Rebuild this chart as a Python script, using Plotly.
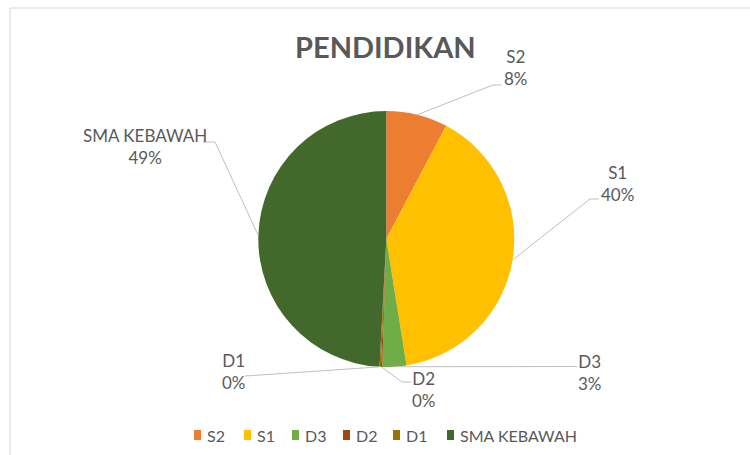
import math
import plotly.graph_objects as go

# ---- data ----
categories = ["S2", "S1", "D3", "D2", "D1", "SMA KEBAWAH"]
values = [46, 236, 18, 1, 1, 292]
colors = ["#ED7D31", "#FFC000", "#70AD47", "#9E480E", "#997300", "#43682B"]
title_text = "PENDIDIKAN"

# ---- layout constants (pixels) ----
W, H = 750, 455
CX, CY, R = 386.3, 239.0, 128.0
FONT = "Lato"
TXT = "#595959"
LEAD = "#BFBFBF"

# label block centres, leader knee and end points (px)
label_pos = [(516, 67), (617, 183), (590, 372), (424, 389), (234, 371), (145, 147)]
leader_knee = [(493, 85), (590, 199), (577, 366.5), (402, 382), (245, 376), (215, 142)]
leader_end = [(501, 85), (599, 199), (577, 366.5), (411, 382), (245, 376), (203, 142)]

legend_marker_x = [194, 244, 292, 343, 393, 447]
legend_y = 435


def px(x):
    return x / W


def py(y):
    return 1 - y / H


fig = go.Figure(
    go.Pie(
        labels=categories,
        values=values,
        sort=False,
        direction="clockwise",
        rotation=0,
        marker=dict(colors=colors, line=dict(width=0)),
        textinfo="none",
        hoverinfo="label+percent",
        showlegend=False,
        domain=dict(x=[px(CX - R), px(CX + R)], y=[py(CY + R), py(CY - R)]),
    )
)

shapes = []
annotations = []

# chart border
shapes.append(dict(type="rect", xref="paper", yref="paper",
                   x0=px(10), y0=py(8), x1=1.05, y1=-0.05,
                   line=dict(color="#D9D9D9", width=1), fillcolor="rgba(0,0,0,0)"))

total = sum(values)
cum = 0
for i, (cat, v) in enumerate(zip(categories, values)):
    mid = (cum + v / 2) / total * 2 * math.pi
    cum += v
    ax = CX + R * math.sin(mid)
    ay = CY - R * math.cos(mid)
    kx, ky = leader_knee[i]
    ex, ey = leader_end[i]
    path = f"M {px(ax)},{py(ay)} L {px(kx)},{py(ky)} L {px(ex)},{py(ey)}"
    shapes.append(dict(type="path", xref="paper", yref="paper", path=path,
                       line=dict(color=LEAD, width=1)))
    pct = round(v / total * 100)
    lx, ly = label_pos[i]
    annotations.append(dict(text=f"{cat}<br>{pct}%", x=px(lx), y=py(ly),
                            xref="paper", yref="paper", xanchor="center", yanchor="middle",
                            showarrow=False, align="center",
                            font=dict(family=FONT, size=17, color=TXT)))

# title
annotations.append(dict(text=f"<b>{title_text}</b>", x=px(385), y=py(47),
                        xref="paper", yref="paper", xanchor="center", yanchor="middle",
                        showarrow=False, font=dict(family=FONT, size=29, color=TXT)))

# legend
for i, cat in enumerate(categories):
    mx = legend_marker_x[i]
    shapes.append(dict(type="rect", xref="paper", yref="paper",
                       x0=px(mx), x1=px(mx + 7), y0=py(legend_y - 5), y1=py(legend_y + 5),
                       fillcolor=colors[i], line=dict(width=0)))
    annotations.append(dict(text=cat, x=px(mx + 11), y=py(legend_y), xref="paper", yref="paper",
                            xanchor="left", yanchor="middle", showarrow=False,
                            font=dict(family=FONT, size=16, color=TXT)))

fig.update_layout(
    width=W, height=H,
    margin=dict(l=0, r=0, t=0, b=0),
    paper_bgcolor="white", plot_bgcolor="white",
    shapes=shapes, annotations=annotations,
)

fig.write_html("out.html", config={"displayModeBar": False},
               post_script="document.body.style.margin='0px';")
